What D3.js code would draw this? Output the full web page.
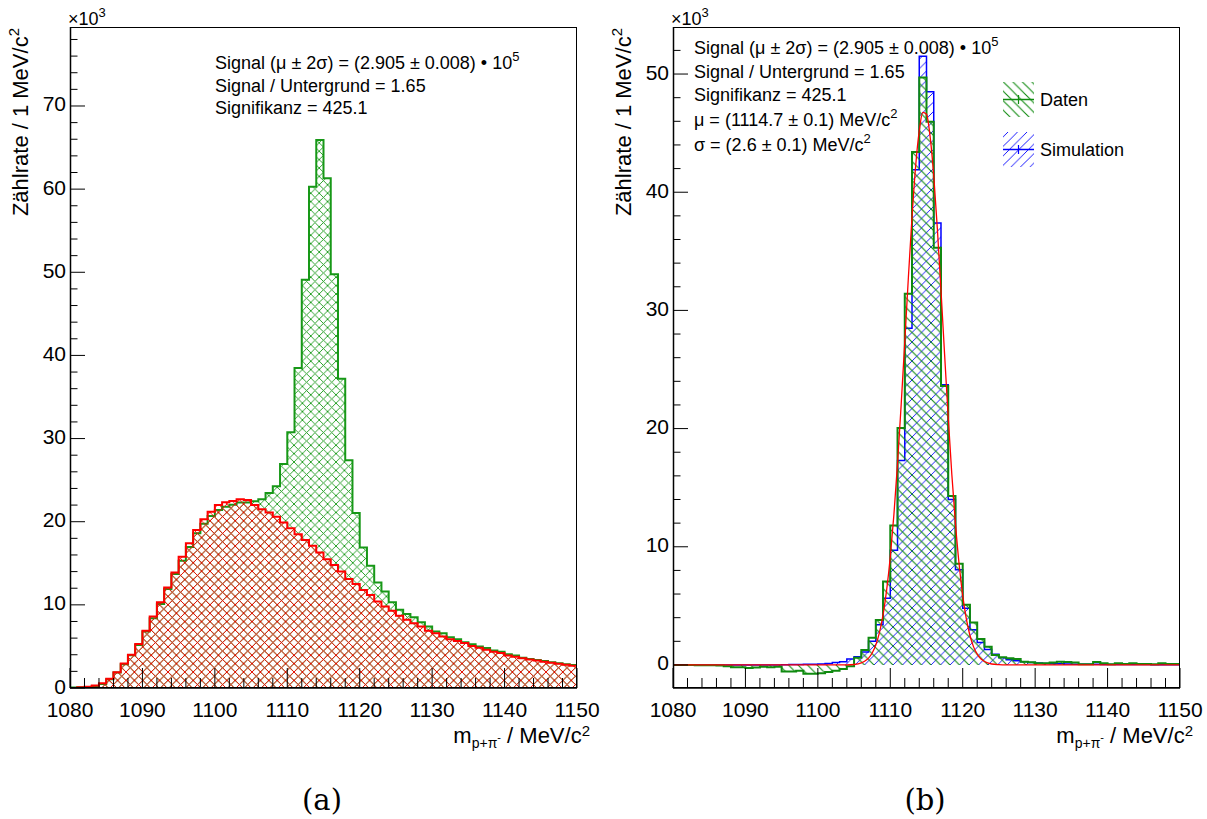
<!DOCTYPE html>
<html><head><meta charset="utf-8">
<script src="https://cdn.jsdelivr.net/npm/d3@7"></script>
<style>body{margin:0;background:#fff}svg{display:block}</style>
</head><body><svg id="c" width="1207" height="819"></svg>
<script>
// ---------- data (values in units of 10^3 counts per 1 MeV/c^2 bin, bins 1080..1150) ----------
const binEdges = d3.range(1080, 1151, 1);
const xTickLabels = [1080, 1090, 1100, 1110, 1120, 1130, 1140, 1150];
const yTickLabelsA = [0, 10, 20, 30, 40, 50, 60, 70];
const yTickLabelsB = [0, 10, 20, 30, 40, 50];

// (a) data (green) and background (red)
const dataA = [0.05,0.1,0.1,0.2,0.48,1.05,1.85,2.85,3.93,5.18,
  6.8,8.4,10.1,11.9,13.7,15.3,16.95,18.6,19.76,20.7,
  21.4,21.8,22.05,22.3,22.3,22.45,22.7,23.45,24.25,26.95,
  30.76,38.5,49.1,60.3,65.9,61.3,49.76,37.2,27.4,21.05,
  16.9,14.7,12.7,11.6,10.3,9.4,8.9,8.5,7.9,7.4,
  6.8,6.6,6.1,5.87,5.5,5.26,4.98,4.8,4.5,4.37,
  4.06,3.9,3.65,3.5,3.37,3.25,3.1,2.97,2.85,2.77];
const bkgA = [0,0.1,0.15,0.3,0.56,1.1,1.9,2.95,4.0,5.3,
  6.9,8.6,10.3,12.1,13.9,15.8,17.4,19.0,20.3,21.2,
  22.0,22.35,22.5,22.7,22.6,22.0,21.5,21.1,20.6,19.9,
  19.2,18.5,17.8,17.1,16.3,15.5,14.8,14.0,13.1,12.5,
  11.8,11.2,10.4,9.8,9.3,8.7,8.2,7.8,7.4,6.9,
  6.6,6.2,5.87,5.66,5.4,5.05,4.85,4.6,4.35,4.2,
  3.92,3.75,3.57,3.42,3.3,3.17,3.04,2.93,2.8,2.68];

// (b) background-subtracted data (green), simulation (blue), fit (red)
const dataB = [0,0,0,-0.02,-0.02,-0.03,-0.05,-0.1,-0.2,-0.2,
  -0.25,-0.22,-0.15,-0.2,-0.15,-0.55,-0.55,-0.5,-0.75,-0.75,
  -0.7,-0.6,-0.5,-0.35,-0.1,0.6,1.27,2.3,3.8,7.06,
  11.8,20.06,31.4,43.4,49.7,45.96,35.3,23.6,14.3,8.56,
  5.1,3.6,2.2,1.55,0.85,0.65,0.56,0.5,0.28,0.23,
  0.14,0.14,0.2,0.28,0.25,0.2,0.06,0.05,0.25,0.14,
  0.05,0.14,0.08,0.14,0.08,0.08,0.05,0.14,0.08,0.08];
const simB = [0,0,0,0,0,0,0,0,0,0,
  0,0,0,0,0,0.02,0.03,0.04,0.05,0.05,
  0.08,0.12,0.2,0.28,0.5,0.7,1.1,2.0,3.4,5.65,
  9.7,17.3,28.5,41.9,51.5,48.5,37.4,23.7,14.0,8.05,
  4.8,2.97,1.9,1.3,0.9,0.6,0.45,0.35,0.27,0.2,
  0.16,0.13,0.11,0.1,0.08,0.07,0.06,0.05,0.05,0.04,
  0.04,0.04,0.03,0.03,0.03,0.03,0.02,0.02,0.02,0.02];
const fitMass = [1080,1100,1104,1105,1106,1106.5,1107,1107.5,1108,1108.5,1109,1109.5,1110,1110.5,
  1111,1111.5,1112,1112.5,1113,1113.5,1114,1114.5,1115,1115.5,1116,1116.5,1117,1117.5,1118,1118.5,
  1119,1119.5,1120,1120.5,1121,1121.5,1122,1122.5,1123,1124,1125,1126,1150];
const fitVal = [0,0,0.01,0.04,0.17,0.33,0.58,1.01,1.69,2.73,4.24,6.35,9.16,12.72,
  17.04,22.0,27.35,32.8,37.9,42.2,45.2,46.76,46.6,44.7,41.4,36.9,31.7,26.26,20.96,16.1,
  11.95,8.54,5.87,3.9,2.49,1.53,0.91,0.52,0.29,0.08,0.02,0,0];

const textA = ["Signal / Untergrund = 1.65", "Signifikanz = 425.1"];
const legendB = ["Daten", "Simulation"];

// ---------- styling ----------
const GREEN = "#179817", DGREEN = "#0f8a0f", RED = "#ff0000", BLUE = "#0000ff";
const FONT = "'Liberation Sans', Arial, Helvetica, sans-serif";
const svg = d3.select("#c");
const defs = svg.append("defs");

function addHatch(id, color, w, dirs, sw) {
  const p = defs.append("pattern").attr("id", id).attr("patternUnits", "userSpaceOnUse")
    .attr("width", w).attr("height", w);
  let d = "";
  if (dirs.includes("b")) d += `M0,0L${w},${w}M${-1},${w-1}L1,${w+1}M${w-1},-1L${w+1},1`;
  if (dirs.includes("f")) d += `M0,${w}L${w},0M-1,1L1,-1M${w-1},${w+1}L${w+1},${w-1}`;
  p.append("path").attr("d", d).attr("stroke", color).attr("stroke-width", sw || 1).attr("fill", "none");
}
addHatch("crossG", GREEN, 8.4, "bf", 0.9);
addHatch("crossR", RED, 8.4, "bf", 0.9);
addHatch("hatchG", DGREEN, 9.5, "b", 1.1);
addHatch("hatchB", BLUE, 9.5, "f", 0.9);

const FR = {w: 507, top: 27, bottom: 688};

function histPoints(vals) {
  const pts = [[binEdges[0], 0]];
  vals.forEach((v, i) => pts.push([binEdges[i], v]));
  pts.push([binEdges[binEdges.length - 1], vals[vals.length - 1]]);
  pts.push([binEdges[binEdges.length - 1], 0]);
  return pts;
}

function makePanel(x0, yDomain, yTickLabels, yMinorMax, id) {
  const x = d3.scaleLinear().domain([1080, 1150]).range([x0, x0 + FR.w]);
  const y = d3.scaleLinear().domain(yDomain).range([FR.bottom, FR.top]);
  defs.append("clipPath").attr("id", "clip" + id).append("rect")
    .attr("x", x0).attr("y", FR.top).attr("width", FR.w).attr("height", FR.bottom - FR.top);
  const g = svg.append("g");
  const plot = g.append("g").attr("clip-path", `url(#clip${id})`);
  return {x, y, g, plot, x0, yTickLabels, yMinorMax, yDomain};
}

function drawHist(P, vals, fill, stroke, sw) {
  const area = d3.area().curve(d3.curveStepAfter).x(d => P.x(d[0])).y0(P.y(0)).y1(d => P.y(d[1]));
  const line = d3.line().curve(d3.curveStepAfter).x(d => P.x(d[0])).y(d => P.y(d[1]));
  const pts = histPoints(vals);
  P.plot.append("path").attr("d", area(pts.slice(1, -1))).attr("fill", `url(#${fill})`);
  P.plot.append("path").attr("d", line(pts)).attr("fill", "none").attr("stroke", stroke)
    .attr("stroke-width", sw).attr("stroke-linejoin", "miter");
}

function drawAxes(P, label) {
  const g = P.g;
  const xMinor = d3.range(1080, 1151, 2);
  g.selectAll(null).data(xMinor).enter().append("line")
    .attr("x1", d => P.x(d)).attr("x2", d => P.x(d))
    .attr("y1", FR.bottom).attr("y2", d => FR.bottom - (d % 10 === 0 ? 20 : 10))
    .attr("stroke", "#000").attr("stroke-width", 1);
  g.selectAll(null).data(xTickLabels).enter().append("text")
    .attr("x", d => P.x(d)).attr("y", 717).attr("text-anchor", "middle")
    .attr("font-family", FONT).attr("font-size", 21).text(d => d);
  const yMinor = d3.range(0, P.yMinorMax + 0.01, 2);
  g.selectAll(null).data(yMinor).enter().append("line")
    .attr("x1", P.x0).attr("x2", d => P.x0 + (d % 10 === 0 ? 15 : 7.5))
    .attr("y1", d => P.y(d)).attr("y2", d => P.y(d))
    .attr("stroke", "#000").attr("stroke-width", 1);
  g.selectAll(null).data(P.yTickLabels).enter().append("text")
    .attr("x", P.x0 - 4).attr("y", d => P.y(d) + 5.5).attr("text-anchor", "end")
    .attr("font-family", FONT).attr("font-size", 21).text(d => d);
  g.append("rect").attr("x", P.x0 + 0.5).attr("y", FR.top + 0.5).attr("width", FR.w - 1)
    .attr("height", FR.bottom - FR.top - 1).attr("fill", "none").attr("stroke", "#000").attr("stroke-width", 1);
  g.append("line").attr("x1", P.x0).attr("x2", P.x0 + FR.w).attr("y1", FR.bottom).attr("y2", FR.bottom)
    .attr("stroke", "#000").attr("stroke-width", 1.5);
  g.append("line").attr("x1", P.x0 + 0.5).attr("x2", P.x0 + 0.5).attr("y1", FR.top).attr("y2", FR.bottom)
    .attr("stroke", "#000").attr("stroke-width", 1.5);
  const ex = g.append("text").attr("x", P.x0 - 2).attr("y", 25).attr("font-family", FONT).attr("font-size", 18);
  ex.append("tspan").text("×10");
  ex.append("tspan").attr("dy", -8).attr("font-size", 13).text("3");
  const yt = g.append("text").attr("transform", `translate(${P.x0 - 42},28) rotate(-90)`)
    .attr("text-anchor", "end").attr("font-family", FONT).attr("font-size", 22);
  yt.append("tspan").text("Zählrate / 1 MeV/c");
  yt.append("tspan").attr("dy", -9).attr("font-size", 15).text("2");
  const xt = g.append("text").attr("x", P.x0 + FR.w + 13).attr("y", 743).attr("text-anchor", "end")
    .attr("font-family", FONT).attr("font-size", 22);
  xt.append("tspan").text("m");
  xt.append("tspan").attr("dy", 5).attr("font-size", 14).text("p+π");
  xt.append("tspan").attr("dy", -7).attr("font-size", 11).text("-");
  xt.append("tspan").attr("dy", 2).text(" / MeV/c");
  xt.append("tspan").attr("dy", -7).attr("font-size", 15).text("2");
  g.append("text").attr("x", P.x0 + 252).attr("y", 810).attr("text-anchor", "middle")
    .attr("font-family", "'DejaVu Serif', 'Liberation Serif', serif").attr("font-size", 29).text(label);
}

function signalLine(g, x, y) {
  const t = g.append("text").attr("x", x).attr("y", y).attr("font-family", FONT).attr("font-size", 18);
  t.append("tspan").text("Signal (μ ± 2σ) = (2.905 ± 0.008) • 10");
  t.append("tspan").attr("dy", -8).attr("font-size", 13).text("5");
}

// ---------- panel (a) ----------
const A = makePanel(70, [0, 79.5], yTickLabelsA, 78, "A");
drawHist(A, dataA, "crossG", GREEN, 2);
drawHist(A, bkgA, "crossR", RED, 2);
drawAxes(A, "(a)");
signalLine(A.g, 215, 69);
A.g.selectAll(null).data(textA).enter().append("text")
  .attr("x", 215).attr("y", (d, i) => 91.5 + i * 22.5)
  .attr("font-family", FONT).attr("font-size", 18).text(d => d);

// ---------- panel (b) ----------
const B = makePanel(673, [-1.95, 53.98], yTickLabelsB, 52, "B");
drawHist(B, simB, "hatchB", BLUE, 1.5);
drawHist(B, dataB, "hatchG", DGREEN, 2);
const fitLine = d3.line().curve(d3.curveMonotoneX).x((d, i) => B.x(fitMass[i])).y(d => B.y(d));
B.plot.append("path").attr("d", fitLine(fitVal)).attr("fill", "none").attr("stroke", RED).attr("stroke-width", 1.3);
drawAxes(B, "(b)");
signalLine(B.g, 694, 54);
const tb = [["Signal / Untergrund = 1.65", 77.5], ["Signifikanz = 425.1", 101]];
tb.forEach(([s, yy]) => B.g.append("text").attr("x", 694).attr("y", yy).attr("font-family", FONT).attr("font-size", 18).text(s));
{
  const t1 = B.g.append("text").attr("x", 694).attr("y", 126).attr("font-family", FONT).attr("font-size", 18);
  t1.append("tspan").text("μ = (1114.7 ± 0.1) MeV/c");
  t1.append("tspan").attr("dy", -8).attr("font-size", 13).text("2");
  const t2 = B.g.append("text").attr("x", 694).attr("y", 151).attr("font-family", FONT).attr("font-size", 18);
  t2.append("tspan").text("σ = (2.6 ± 0.1) MeV/c");
  t2.append("tspan").attr("dy", -8).attr("font-size", 13).text("2");
}
const legFill = ["hatchG", "hatchB"], legCol = [DGREEN, BLUE], legY = [82, 132];
legendB.forEach((name, i) => {
  const gy = legY[i];
  B.g.append("rect").attr("x", 1003).attr("y", gy).attr("width", 31).attr("height", 35).attr("fill", `url(#${legFill[i]})`);
  B.g.append("line").attr("x1", 1003).attr("x2", 1034).attr("y1", gy + 17.5).attr("y2", gy + 17.5)
    .attr("stroke", legCol[i]).attr("stroke-width", 1.5);
  B.g.append("line").attr("x1", 1018.5).attr("x2", 1018.5).attr("y1", gy + 13).attr("y2", gy + 22)
    .attr("stroke", legCol[i]).attr("stroke-width", 1.2);
  B.g.append("text").attr("x", 1040).attr("y", gy + 24).attr("font-family", FONT).attr("font-size", 18).text(name);
});
</script>
</body></html>
